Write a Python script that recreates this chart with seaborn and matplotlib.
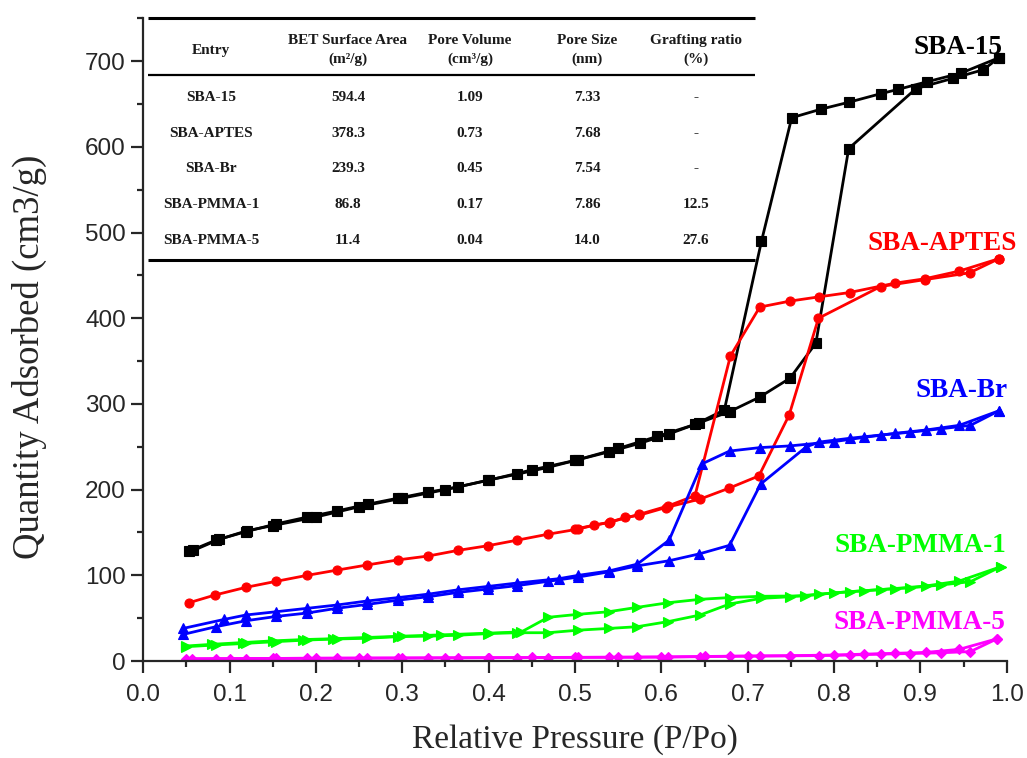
import numpy as np
import pandas as pd
import matplotlib
matplotlib.use("Agg")
import matplotlib.pyplot as plt
from matplotlib.ticker import MultipleLocator, FormatStrFormatter
import seaborn as sns

# ---------------- data ----------------
sba15_ads_p = [0.053,0.084,0.119,0.154,0.190,0.224,0.260,0.295,0.330,0.364,0.399,0.433,0.469,0.504,0.539,0.575,0.609,0.644,0.679,0.714,0.749,0.779,0.817,0.895,0.938,0.973,0.991]
sba15_ads_q = [128,141,151,160,168,175,183,190,197,203,211,218,226,235,244,254,265,278,291,308,330,371,598,668,680,690,704]
sba15_des_p = [0.991,0.947,0.908,0.874,0.854,0.817,0.785,0.751,0.716,0.673,0.639,0.595,0.55,0.50,0.45,0.40,0.35,0.30,0.25,0.20,0.15,0.12,0.088,0.058]
sba15_des_q = [704,686,676,667,662,652,644,634,490,293,276,262,248,234,223,211,200,190,180,168,158,152,142,129]

aptes_ads_p = [0.053,0.083,0.119,0.154,0.190,0.224,0.259,0.295,0.330,0.364,0.399,0.433,0.469,0.504,0.522,0.539,0.558,0.574,0.605,0.645,0.678,0.713,0.748,0.782,0.854,0.905,0.957,0.991]
aptes_ads_q = [68,77,86,93,100,106,112,118,122.5,129,134.5,141,148,154,158.5,161.5,167.5,170,179,189,201.5,216,287,400,437,445,453,469.5]
aptes_des_p = [0.991,0.945,0.905,0.871,0.818,0.783,0.749,0.714,0.680,0.639,0.608,0.574,0.54,0.50]
aptes_des_q = [469.5,455,446,441,430,425,420,413,356,193,181,171,162,154]

br_ads_p = [0.046,0.084,0.119,0.154,0.190,0.224,0.259,0.295,0.330,0.364,0.399,0.433,0.469,0.504,0.539,0.572,0.609,0.644,0.679,0.715,0.768,0.783,0.819,0.854,0.888,0.924,0.958,0.991]
br_ads_q = [31,40,47,52,56,61.5,66,71,75,80,84,88,93,98,104,111,117,125,135,206.5,250,255.5,260,263.7,267,271,275,292]
br_des_p = [0.991,0.945,0.906,0.871,0.835,0.800,0.749,0.714,0.679,0.647,0.609,0.572,0.539,0.504,0.481,0.433,0.399,0.364,0.330,0.295,0.259,0.224,0.190,0.154,0.119,0.094,0.046]
br_des_q = [292,275,269.5,265.7,261,256,251,249,245,230,141,113,105,100,96,91,87,83,78,74,70,65.3,61.5,57.5,53.7,48.6,38]

pm1_ads_p = [0.050,0.084,0.119,0.154,0.190,0.224,0.259,0.295,0.330,0.364,0.399,0.433,0.469,0.504,0.539,0.572,0.608,0.645,0.679,0.715,0.749,0.783,0.819,0.854,0.888,0.924,0.958,0.993]
pm1_ads_q = [16.7,18.7,20.6,22.6,24.5,25.7,26.5,28.4,29,30,32,33,33,36,38,40,46,53.7,66.5,73,75,78,81,83.3,85.4,88.7,92.6,110]
pm1_des_p = [0.993,0.945,0.906,0.871,0.835,0.800,0.766,0.715,0.679,0.645,0.608,0.572,0.539,0.504,0.469,0.438,0.400,0.345,0.30,0.26,0.22,0.185,0.15,0.115,0.08,0.05]
pm1_des_q = [110,93.3,87.5,84.6,82,79.5,76,75.5,74,72,68,62.6,57.5,54.5,51,34,32.5,30.5,29,27.5,26,25,23.5,21.5,19.5,17.5]

pm5_ads_p = [0.050,0.084,0.119,0.154,0.190,0.224,0.259,0.295,0.330,0.364,0.399,0.433,0.469,0.504,0.539,0.572,0.608,0.645,0.679,0.714,0.749,0.783,0.819,0.854,0.888,0.924,0.958,0.989]
pm5_ads_q = [2.5,2.7,2.9,3.0,3.2,3.3,3.4,3.5,3.6,3.7,3.8,3.9,4.0,4.2,4.3,4.4,4.6,5.0,5.5,5.8,6.0,6.3,7.0,8.0,8.7,9.6,11,26]
pm5_des_p = [0.989,0.945,0.906,0.871,0.835,0.800,0.749,0.70,0.65,0.60,0.55,0.50,0.45,0.40,0.35,0.30,0.25,0.20,0.15,0.10,0.056]
pm5_des_q = [26,13.6,10,9,8,7,6.2,5.8,5.3,4.8,4.5,4.3,4.1,3.9,3.7,3.5,3.4,3.2,3.0,2.8,2.6]

series_names = ["SBA-15", "SBA-APTES", "SBA-Br", "SBA-PMMA-1", "SBA-PMMA-5"]
series_colors = ["#000000", "#FF0000", "#0000FF", "#00FF00", "#FF00FF"]
series_markers = ["s", "o", "^", ">", "D"]
series_branches = [
    [(sba15_ads_p, sba15_ads_q), (sba15_des_p, sba15_des_q)],
    [(aptes_ads_p, aptes_ads_q), (aptes_des_p, aptes_des_q)],
    [(br_ads_p, br_ads_q), (br_des_p, br_des_q)],
    [(pm1_ads_p, pm1_ads_q), (pm1_des_p, pm1_des_q)],
    [(pm5_ads_p, pm5_ads_q), (pm5_des_p, pm5_des_q)],
]

table_header = [["Entry", ""], ["BET Surface Area", "(m²/g)"], ["Pore Volume", "(cm³/g)"],
                ["Pore Size", "(nm)"], ["Grafting ratio", "(%)"]]
table_rows = [
    ["SBA-15", "594.4", "1.09", "7.33", "-"],
    ["SBA-APTES", "378.3", "0.73", "7.68", "-"],
    ["SBA-Br", "239.3", "0.45", "7.54", "-"],
    ["SBA-PMMA-1", "86.8", "0.17", "7.86", "12.5"],
    ["SBA-PMMA-5", "11.4", "0.04", "14.0", "27.6"],
]

# ---------------- plot ----------------
sns.set_style("ticks")
plt.rcParams['font.family'] = ['Liberation Sans', 'DejaVu Sans']

fig = plt.figure(figsize=(10.27, 7.58), dpi=100)
ax = fig.add_axes([143.3/1027, 1-661/758, (1006.7-143.3)/1027, (661-18.3)/758])

for name, col, mk, branches in zip(series_names, series_colors, series_markers, series_branches):
    for bi, (p, q) in enumerate(branches):
        df = pd.DataFrame({"p": p, "q": q})
        sns.lineplot(data=df, x="p", y="q", sort=False, estimator=None, ax=ax,
                     color=col, lw=2.0, marker=mk,
                     markersize=(5.5 if mk == "D" else 6.5), markeredgecolor=col,
                     markeredgewidth=0.8)

ax.set_xlim(0, 1.0)
ax.set_ylim(0, 750)
ax.xaxis.set_major_locator(MultipleLocator(0.1))
ax.xaxis.set_minor_locator(MultipleLocator(0.05))
ax.xaxis.set_major_formatter(FormatStrFormatter("%.1f"))
ax.set_yticks([0, 100, 200, 300, 400, 500, 600, 700])
ax.yaxis.set_minor_locator(MultipleLocator(50))
ax.tick_params(which="major", direction="out", length=8.5, width=1.6, labelsize=17.5)
ax.tick_params(axis="x", which="major", pad=8)
ax.tick_params(axis="y", which="major", pad=4)
ax.tick_params(which="minor", direction="out", length=4.5, width=1.6)
for s in ["top", "right"]:
    ax.spines[s].set_visible(False)
for s in ["left", "bottom"]:
    ax.spines[s].set_linewidth(1.6)

ax.set_xlabel("Relative Pressure (P/Po)", family=["Liberation Serif"], fontsize=24)
ax.set_ylabel("Quantity Adsorbed (cm3/g)", family=["Liberation Serif"], fontsize=26.5)
ax.xaxis.set_label_coords(0.5, (661 - 740) / 642.7)
ax.xaxis.label.set_verticalalignment("center")
ax.yaxis.set_label_coords((29 - 143.3) / 863.4, (661 - 357) / 642.7)
ax.yaxis.label.set_verticalalignment("center")

# series labels
label_pos = [(0.944, 716), (0.925, 487), (0.948, 316), (0.8995, 135), (0.8995, 45)]
for name, col, (lx, ly) in zip(series_names, series_colors, label_pos):
    ax.text(lx, ly, name, color=col, fontsize=19.5, fontweight="bold",
            family=["Liberation Serif"], ha="center", va="center")

# table
def px2x(px):
    return (px - 143.3) / 863.4

def py2y(py):
    return (661 - py) / 0.8573

x0, x1 = px2x(148), px2x(755)
ax.plot([x0, x1], [py2y(18), py2y(18)], color="black", lw=2.2, solid_capstyle="butt", clip_on=False)
ax.plot([x0, x1], [py2y(75), py2y(75)], color="black", lw=1.6, solid_capstyle="butt")
ax.plot([x0, x1], [py2y(260), py2y(260)], color="black", lw=2.2, solid_capstyle="butt")

col_x = [211, 348, 470, 587, 696]
tfont = dict(family=["Liberation Serif", "DejaVu Serif"], fontweight="bold", fontsize=11,
             ha="center", va="center", color="#1a1a1a")
for cx, (h1, h2) in zip(col_x, table_header):
    if h2:
        ax.text(px2x(cx), py2y(40), h1, **tfont)
        ax.text(px2x(cx), py2y(59), h2, **tfont)
    else:
        ax.text(px2x(cx), py2y(50), h1, **tfont)
row_y = [97, 133, 168, 204, 240]
for ry, row in zip(row_y, table_rows):
    for cx, val in zip(col_x, row):
        ax.text(px2x(cx), py2y(ry), val, **tfont)

fig.savefig("out.png", dpi=100)
